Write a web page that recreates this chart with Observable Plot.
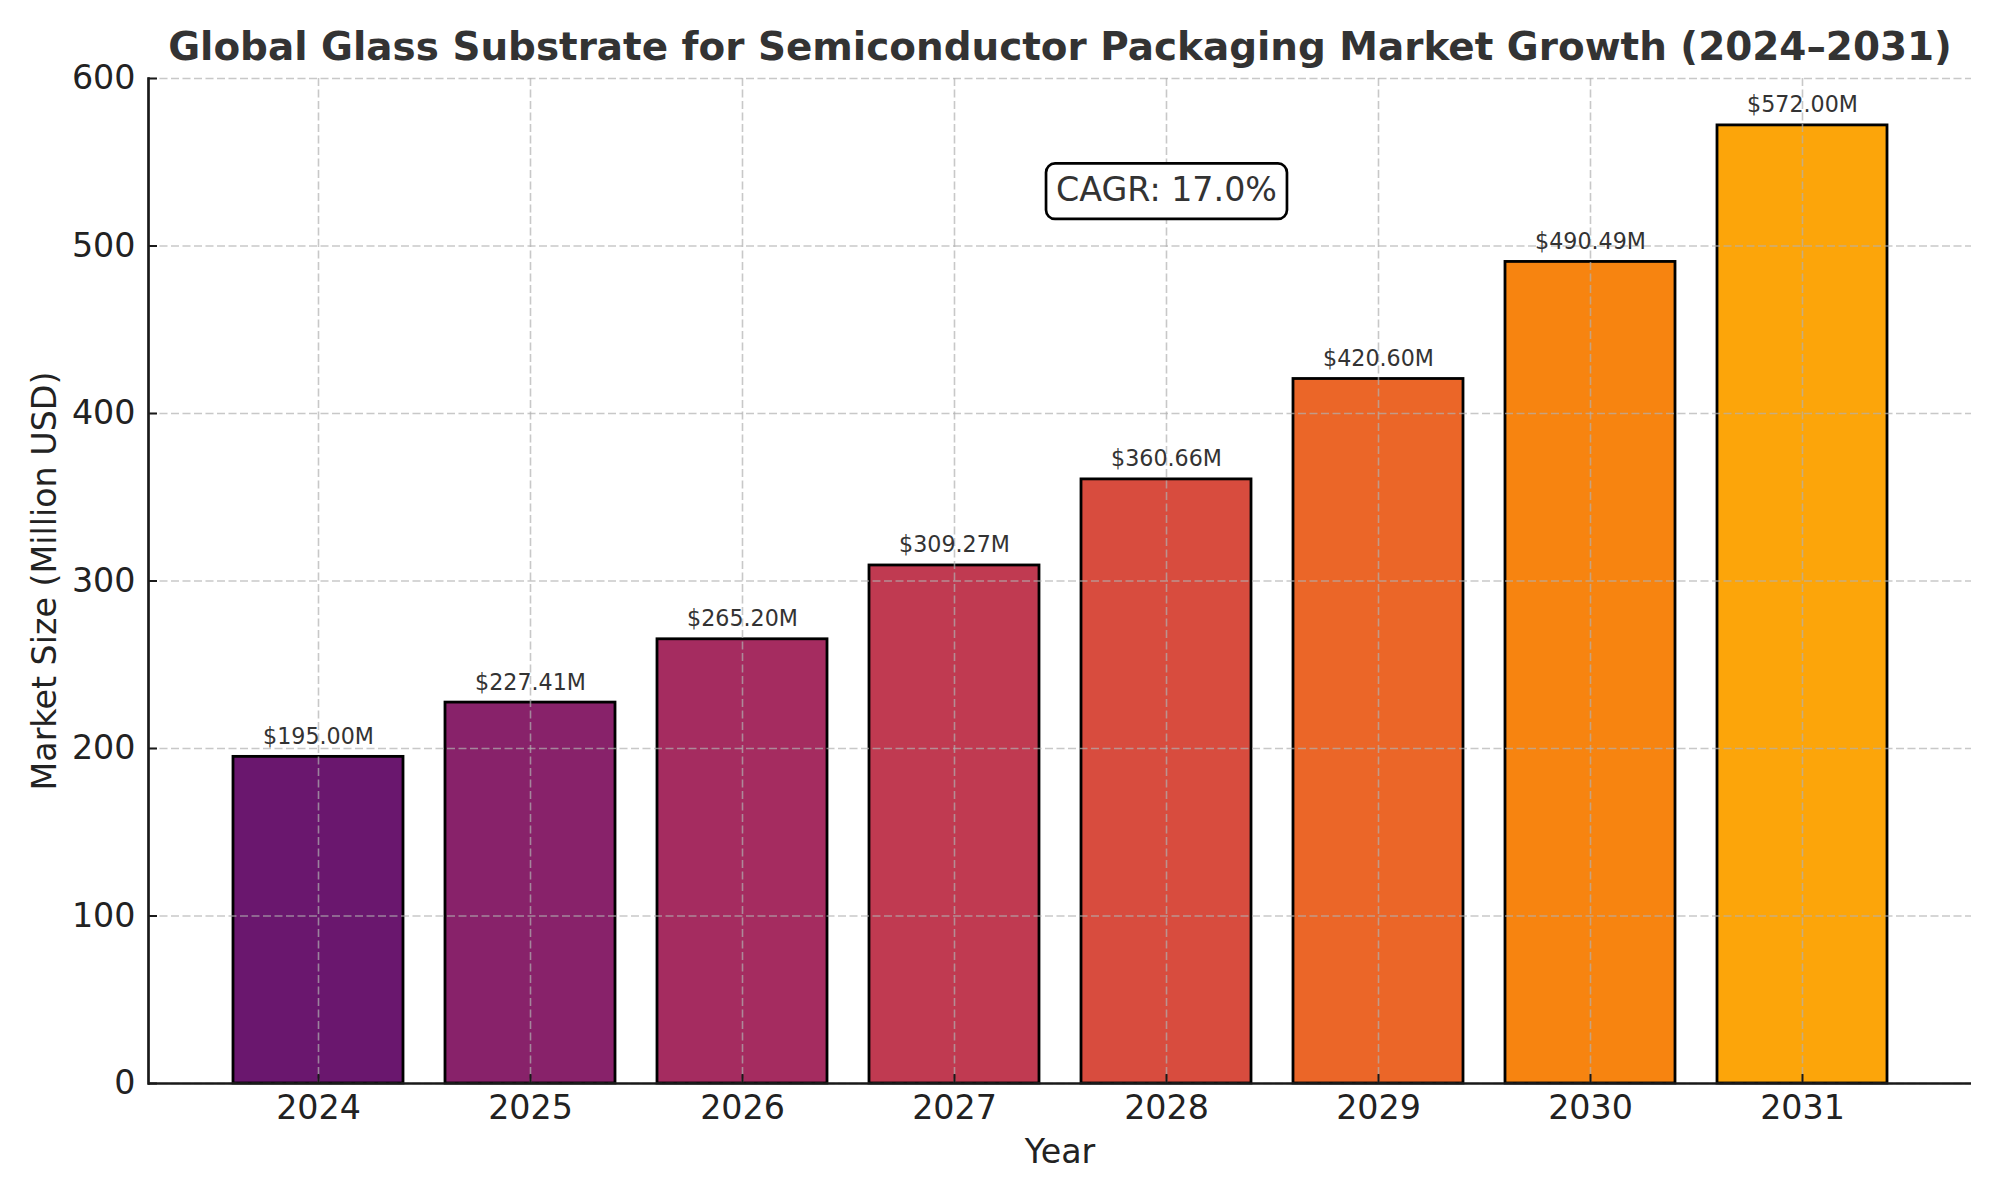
<!DOCTYPE html>
<html>
<head>
<meta charset="utf-8">
<script src="https://cdn.jsdelivr.net/npm/d3@7"></script>
<script src="https://cdn.jsdelivr.net/npm/@observablehq/plot@0.6"></script>
<style>
  html, body { margin: 0; padding: 0; background: #ffffff; }
  #chart { width: 2000px; height: 1200px; }
</style>
</head>
<body>
<div id="chart"></div>
<script>
// Market size by year, million USD
const years = ["2024", "2025", "2026", "2027", "2028", "2029", "2030", "2031"];
const marketSize = [195.00, 227.41, 265.20, 309.27, 360.66, 420.60, 490.49, 572.00];
const yTicks = [0, 100, 200, 300, 400, 500, 600];
const cagrLabel = "CAGR: 17.0%";
const titleText = "Global Glass Substrate for Semiconductor Packaging Market Growth (2024\u20132031)";
const xLabel = "Year";
const yLabel = "Market Size (Million USD)";

// Bar fills sampled from the inferno colour map
const barColors = years.map((_, i) => d3.interpolateInferno(0.3 + 0.5 * i / (years.length - 1)));

const data = years.map((year, i) => ({year, value: marketSize[i], color: barColors[i]}));

const W = 2000, H = 1200;
const mL = 148, mR = 29, mT = 78, mB = 117;
const frameW = W - mL - mR, frameH = H - mT - mB;

const gridStyle = {stroke: "#b0b0b0", strokeOpacity: 0.7, strokeWidth: 1.6, strokeDasharray: "8,3.5"};
const axisColor = "#1a1a1a";
const labelSize = 33.3;

const chart = Plot.plot({
  width: W,
  height: H,
  marginLeft: mL,
  marginRight: mR,
  marginTop: mT,
  marginBottom: mB,
  style: {fontFamily: "'DejaVu Sans', sans-serif", background: "#ffffff", overflow: "visible"},
  x: {domain: years, type: "band", paddingInner: 0.2, paddingOuter: 0.39, align: 0.5, axis: null},
  y: {domain: [0, 600], axis: null},
  marks: [
    Plot.barY(data, {x: "year", y: "value", fill: "color", stroke: "#000000", strokeWidth: 2.8}),
    Plot.gridY(yTicks, gridStyle),
    Plot.gridX(years, gridStyle),
    // inward tick marks
    Plot.ruleY(yTicks, {y: d => d, insetRight: frameW - 9, stroke: axisColor, strokeWidth: 2}),
    Plot.ruleX(years, {x: d => d, insetTop: frameH - 9, stroke: axisColor, strokeWidth: 2}),
    // tick labels
    Plot.axisY(yTicks, {tickSize: 0, tickPadding: 13, fontSize: labelSize, fill: "#222222", label: null}),
    Plot.axisX(years, {tickSize: 0, tickPadding: 12, fontSize: labelSize, fill: "#222222", label: null}),
    // spines
    Plot.ruleY([0], {stroke: axisColor, strokeWidth: 2.7}),
    Plot.frame({anchor: "left", stroke: axisColor, strokeWidth: 2.7}),
    // value labels
    Plot.text(data, {
      x: "year", y: "value",
      text: d => `$${d.value.toFixed(2)}M`,
      lineAnchor: "bottom", dy: -13,
      fontSize: 22.2, fill: "#333333"
    }),
    // CAGR annotation
    Plot.text([cagrLabel], {
      x: () => years[4], y: () => d3.max(marketSize) * 0.93,
      text: d => d,
      lineAnchor: "bottom", dy: 9,
      fontSize: labelSize, fill: "#333333",
      className: "cagr-label"
    }),
    // title and axis labels
    Plot.text([titleText], {
      frameAnchor: "top", textAnchor: "middle", text: d => d, lineAnchor: "bottom", dy: -19,
      fontSize: 38.9, fontWeight: "bold", fill: "#333333"
    }),
    Plot.text([xLabel], {
      frameAnchor: "bottom", textAnchor: "middle", text: d => d, lineAnchor: "bottom", dy: 79,
      fontSize: labelSize, fill: "#222222"
    }),
    Plot.text([yLabel], {
      frameAnchor: "left", textAnchor: "middle", text: d => d, rotate: -90, lineAnchor: "bottom", dx: -93,
      fontSize: labelSize, fill: "#222222"
    })
  ]
});

document.getElementById("chart").appendChild(chart);

// Rounded box behind the CAGR annotation
const cagrGroup = d3.select(chart).select("g.cagr-label");
cagrGroup.selectAll("text").each(function () {
  const b = this.getBBox();
  const t = this.getAttribute("transform");
  const r = document.createElementNS("http://www.w3.org/2000/svg", "rect");
  r.setAttribute("x", b.x - 10);
  r.setAttribute("y", b.y - 7);
  r.setAttribute("width", b.width + 20);
  r.setAttribute("height", b.height + 16.5);
  r.setAttribute("rx", 9);
  r.setAttribute("ry", 9);
  r.setAttribute("fill", "#ffffff");
  r.setAttribute("stroke", "#000000");
  r.setAttribute("stroke-width", 2.7);
  if (t) r.setAttribute("transform", t);
  this.parentNode.insertBefore(r, this);
});
</script>
</body>
</html>
